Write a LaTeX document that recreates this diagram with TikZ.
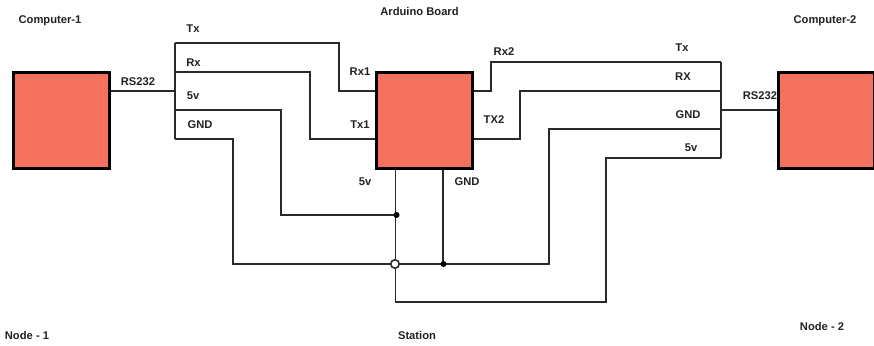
\documentclass[tikz,border=0pt]{standalone}
\usepackage{fontspec}
\setmainfont{Liberation Sans}
\definecolor{boxfill}{HTML}{F4705F}
\definecolor{wirecol}{HTML}{2A2A2A}
\definecolor{labelcol}{HTML}{222222}
\tikzset{
  unitbox/.style={draw=black,line width=3pt,fill=boxfill,minimum width=96pt,minimum height=96pt,inner sep=0pt,outer sep=0pt,anchor=north west},
  lbl/.style={font=\fontsize{11.2}{13}\selectfont\bfseries,text=labelcol,inner sep=0pt},
  wire/.style={draw=wirecol,line width=1.9pt,line join=miter},
  jdot/.style={circle,fill=black,inner sep=0pt,minimum size=6pt},
  jhop/.style={circle,draw=wirecol,line width=1.6pt,fill=white,inner sep=0pt,minimum size=8.5pt}
}
\begin{document}
\begin{tikzpicture}[x=1pt,y=-1pt]
\useasboundingbox (0,0) rectangle (874,345);
% bends and free ends
\coordinate (busLt) at (175,43);
\coordinate (busLb) at (175,139);
\coordinate (busLm) at (175,91);
\coordinate (busRt) at (721,62);
\coordinate (busRb) at (721,158);
\coordinate (busRm) at (721,110);
\coordinate (rxL) at (175,72);
\coordinate (vL) at (175,110);
\coordinate (rxR) at (721,91);
\coordinate (gR) at (721,129);
\coordinate (bL1) at (376,91);
\coordinate (bL2) at (376,139);
\coordinate (bR1) at (472,91);
\coordinate (bR2) at (472,139);
\coordinate (bB1) at (395.5,168);
\coordinate (bB2) at (443,168);
\coordinate (c1R) at (109,91);
\coordinate (c2L) at (778,110);
\coordinate (p1) at (339,43);
\coordinate (p2) at (310,72);
\coordinate (p3) at (281,110);
\coordinate (p4) at (281,215);
\coordinate (p5) at (233,139);
\coordinate (p6) at (233,264);
\coordinate (p7) at (549,264);
\coordinate (p8) at (549,129);
\coordinate (p9) at (491,91);
\coordinate (p10) at (491,62);
\coordinate (p11) at (520,139);
\coordinate (p12) at (520,91);
\coordinate (p13) at (606,158);
\coordinate (p14) at (606,302);
\coordinate (p15) at (395.5,302);
% wires
\draw[wire] (c1R) -- (busLm);
\draw[wire] (busLt) -- (busLb);
\draw[wire] (busLt) -- (p1) |- (bL1);
\draw[wire] (rxL) -- (p2) |- (bL2);
\draw[wire] (vL) -- (p3) -- (p4) -- (395.5,215);
\draw[wire] (busLb) -- (p5) -- (p6) -- (p7) -- (p8) -- (gR);
\draw[wire] (bR1) -- (p9) -- (p10) -- (busRt);
\draw[wire] (bR2) -- (p11) -- (p12) -- (rxR);
\draw[wire] (busRt) -- (busRb);
\draw[wire] (busRb) -- (p13) -- (p14) -- (p15) -- (bB1);
\draw[wire] (busRm) -- (c2L);
\draw[wire] (bB2) -- (443,264);
% boxes
\node[unitbox] (comp1) at (13,72) {};
\node[unitbox] (board) at (376,72) {};
\node[unitbox] (comp2) at (778,72) {};
% junctions
\node[jdot] (j1) at (396.5,215) {};
\node[jdot] (j2) at (443.5,264) {};
\node[jhop] (j3) at (395,264) {};
% labels
\node[lbl] (t1) at (50,21) {Computer-1};
\node[lbl] (t2) at (419.5,11) {Arduino Board};
\node[lbl] (t3) at (825,21) {Computer-2};
\node[lbl] (t4) at (193,29) {Tx};
\node[lbl] (t5) at (193.5,62.5) {Rx};
\node[lbl] (t6) at (193,96) {5v};
\node[lbl] (t7) at (200,125) {GND};
\node[lbl] (t8) at (138,82) {RS232};
\node[lbl] (t9) at (360,72) {Rx1};
\node[lbl] (t10) at (360,125) {Tx1};
\node[lbl] (t11) at (504,52) {Rx2};
\node[lbl] (t12) at (494,120) {TX2};
\node[lbl] (t13) at (682,48) {Tx};
\node[lbl] (t14) at (683,77) {RX};
\node[lbl] (t15) at (688,115) {GND};
\node[lbl] (t16) at (691,148) {5v};
\node[lbl] (t17) at (760,96) {RS232};
\node[lbl] (t18) at (365,182) {5v};
\node[lbl] (t19) at (467,182) {GND};
\node[lbl] (t20) at (27,335) {Node - 1};
\node[lbl] (t21) at (417,335) {Station};
\node[lbl] (t22) at (822,326) {Node - 2};
\end{tikzpicture}
\end{document}
